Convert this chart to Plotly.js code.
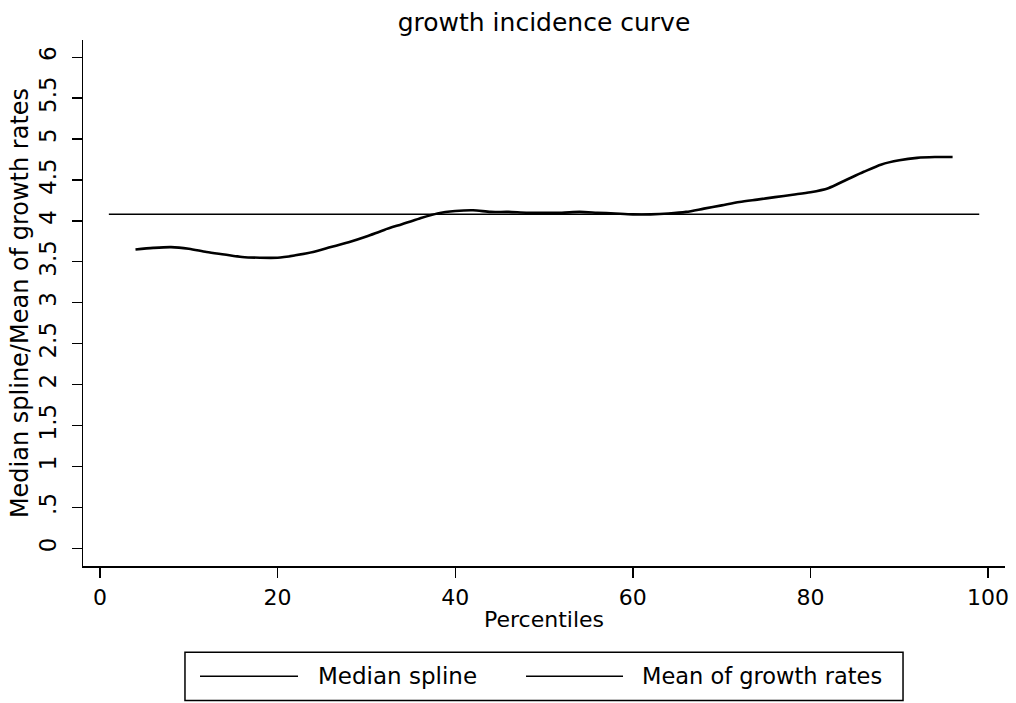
<!DOCTYPE html>
<html>
<head>
<meta charset="utf-8">
<script src="https://cdn.plot.ly/plotly-3.0.1.min.js"></script>
<style>html,body{margin:0;padding:0;background:#fff;}#chart{width:1016px;height:703px;}</style>
</head>
<body>
<div id="chart"></div>
<script>
// Data
var percentiles = [4,6,8,10,12,14,16,18,20,22,24,26,28,30,32,34,36,38,40,42,44,46,48,50,52,54,56,58,60,62,64,66,68,70,72,74,76,78,80,82,84,86,88,90,92,94,96];
var medianSpline = [3.65,3.67,3.68,3.66,3.62,3.59,3.56,3.55,3.55,3.58,3.62,3.68,3.74,3.81,3.89,3.96,4.03,4.09,4.12,4.13,4.11,4.11,4.10,4.10,4.10,4.11,4.10,4.09,4.08,4.08,4.09,4.11,4.15,4.19,4.23,4.26,4.29,4.32,4.35,4.40,4.50,4.60,4.69,4.74,4.77,4.78,4.78];
var meanX = [1, 99];
var meanGrowth = [4.08, 4.08];
var seriesNames = ["Median spline", "Mean of growth rates"];
var yTickVals = [0,0.5,1,1.5,2,2.5,3,3.5,4,4.5,5,5.5,6];
var yTickText = ["0",".5","1","1.5","2","2.5","3","3.5","4","4.5","5","5.5","6"];
var xTickVals = [0,20,40,60,80,100];

var FONT = "DejaVu Sans, Arial, sans-serif";

var traces = [
  {x: percentiles, y: medianSpline, name: seriesNames[0], type: "scatter", mode: "lines",
   line: {color: "#000", width: 2.6, shape: "spline", smoothing: 0.8}},
  {x: meanX, y: meanGrowth, name: seriesNames[1], type: "scatter", mode: "lines",
   line: {color: "#000", width: 1.5}}
];

// Manual legend (box, sample lines and labels) in paper coordinates
var legendShapes = [
  {type: "rect", xref: "paper", yref: "paper", x0: 0.1106, x1: 0.8894, y0: -0.2555, y1: -0.1642,
   line: {color: "#000", width: 1.5}, fillcolor: "rgba(0,0,0,0)"},
  {type: "line", xref: "paper", yref: "paper", x0: 0.1269, x1: 0.2332, y0: -0.2098, y1: -0.2098,
   line: {color: "#000", width: 1.5}},
  {type: "line", xref: "paper", yref: "paper", x0: 0.4805, x1: 0.5857, y0: -0.2098, y1: -0.2098,
   line: {color: "#000", width: 1.5}}
];
var legendAnn = [
  {xref: "paper", yref: "paper", x: 0.2527, y: -0.2098, xanchor: "left", yanchor: "middle",
   text: seriesNames[0], showarrow: false, font: {family: FONT, size: 23, color: "#000"}},
  {xref: "paper", yref: "paper", x: 0.6041, y: -0.2098, xanchor: "left", yanchor: "middle",
   text: seriesNames[1], showarrow: false, font: {family: FONT, size: 22.5, color: "#000"}}
];

var layout = {
  width: 1016, height: 703,
  margin: {l: 83, r: 11, t: 40, b: 137},
  paper_bgcolor: "#fff", plot_bgcolor: "#fff",
  showlegend: false,
  font: {family: FONT, color: "#000"},
  title: {text: "growth incidence curve", font: {family: FONT, size: 25, color: "#000"},
          xref: "paper", x: 0.5, xanchor: "center", yref: "container", y: 0.969, yanchor: "middle"},
  xaxis: {
    range: [-1.91, 101.9], tickmode: "array", tickvals: xTickVals,
    ticks: "outside", ticklen: 10, tickwidth: 1.3, tickcolor: "#000",
    showline: true, linecolor: "#000", linewidth: 1.5, mirror: false,
    showgrid: false, zeroline: false,
    tickfont: {family: FONT, size: 22, color: "#000"}, ticklabelstandoff: 1,
    title: {text: "Percentiles", font: {family: FONT, size: 22, color: "#000"}, standoff: 2}
  },
  yaxis: {
    range: [-0.216, 6.21], tickmode: "array", tickvals: yTickVals, ticktext: yTickText,
    ticks: "outside", ticklen: 10, tickwidth: 1.3, tickcolor: "#000",
    showline: true, linecolor: "#000", linewidth: 1.5, mirror: false,
    showgrid: false, zeroline: false, tickangle: -90,
    tickfont: {family: FONT, size: 23, color: "#000"}, ticklabelstandoff: 6,
    title: {text: "Median spline/Mean of growth rates", font: {family: FONT, size: 24, color: "#000"}, standoff: 0}
  },
  shapes: legendShapes,
  annotations: legendAnn
};

Plotly.newPlot("chart", traces, layout, {displayModeBar: false, staticPlot: true});
</script>
</body>
</html>
